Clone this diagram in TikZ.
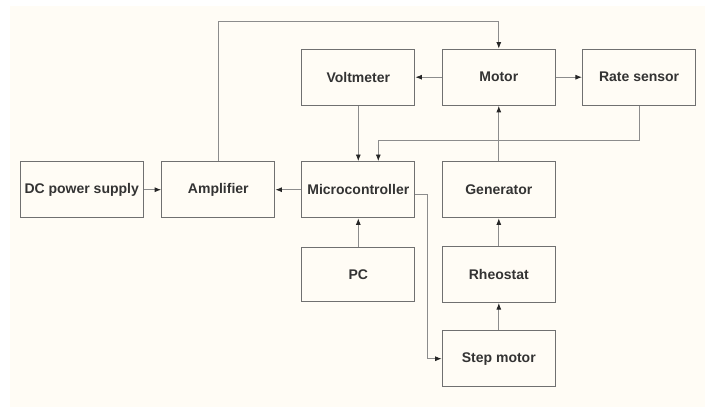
\documentclass[tikz,border=0pt]{standalone}
\usepackage{fontspec}
\setmainfont{Liberation Sans}
\definecolor{KPaper}{HTML}{FFFCF5}
\definecolor{KBox}{HTML}{707070}
\definecolor{KWire}{HTML}{8C8C8C}
\definecolor{KTip}{HTML}{262626}
\definecolor{KInk}{HTML}{333333}
\usepackage{tikz}
\usetikzlibrary{arrows.meta,positioning,calc}
\tikzset{
  blk/.style={rectangle,draw=KBox,line width=1.3bp,
              minimum width=113bp,minimum height=56bp,inner sep=1bp,
              text=KInk,font=\fontsize{14bp}{16bp}\selectfont\bfseries},
  wire/.style={draw=KWire,line width=0.8bp,
               -{Latex[length=6.5bp,width=5bp,color=KTip]}}
}

\begin{document}
\begin{tikzpicture}[x=1bp,y=-1bp]
    \useasboundingbox (0,0) rectangle (705,407);
    \fill[white] (0,0) rectangle (705,407);
    \fill[KPaper] (10,6) rectangle (705,407);
    % top row
    \node[blk] (volt)  at (358.3,77.2) {Voltmeter};
    \node[blk] (motor) at (498.8,77.2) {Motor};
    \node[blk] (rate)  at (639.1,77.2) {Rate sensor};
    % middle row
    \node[blk,minimum width=123bp] (dcsupply) at (81.7,189.7) {DC power supply};
    \node[blk] (amp)   at (218.3,189.7) {Amplifier};
    \node[blk] (mcu)   at (358.3,189.7) {Microcontroller};
    \node[blk] (gen)   at (498.8,189.7) {Generator};
    % lower rows
    \node[blk,minimum height=54bp] (pc) at (358.3,274.5) {PC};
    \node[blk] (rheo)    at (498.8,274.4) {Rheostat};
    \node[blk] (stepmot) at (498.8,358.7) {Step motor};

    \draw[wire] (dcsupply.east) -- (amp.west);
    \draw[wire] (mcu.west) -- (amp.east);
    \draw[wire] (amp.north) -- ++(0,-139.3) -| (motor.north);
    \draw[wire] (motor.west) -- (volt.east);
    \draw[wire] (motor.east) -- (rate.west);
    \draw[wire] (volt.south) -- (volt.south |- mcu.north);
    \draw[wire] (rate.south) -- ++(0,34.3) -| ([xshift=20bp]mcu.north);
    \draw[wire] (gen.north) -- (motor.south);
    \draw[wire] (rheo.north) -- (gen.south);
    \draw[wire] (stepmot.north) -- (rheo.south);
    \draw[wire] (pc.north) -- (mcu.south);
    \draw[wire] ([yshift=-4.5bp]mcu.east) -- ++(11.5,0) |- (stepmot.west);
  \end{tikzpicture}
\end{document}
